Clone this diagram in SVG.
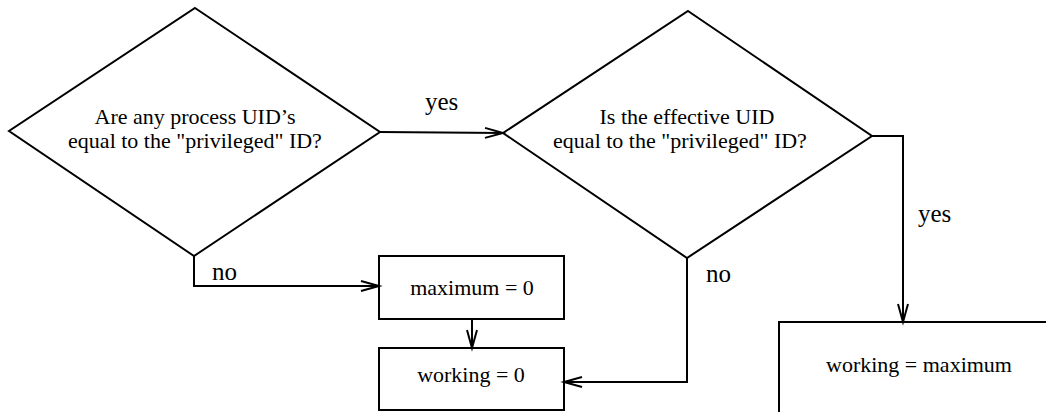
<svg xmlns="http://www.w3.org/2000/svg" width="1046" height="412" viewBox="0 0 1046 412">
<style>
.shape{fill:none;stroke:#000;stroke-width:2}
.t{font-family:"Liberation Serif","Times New Roman",serif;font-size:22px;fill:#000;text-anchor:middle}
.lbl{font-family:"Liberation Serif","Times New Roman",serif;font-size:25px;fill:#000}
.edge{fill:none;stroke:#000;stroke-width:2}
</style>
<defs>
<marker id="arr" markerUnits="userSpaceOnUse" markerWidth="22" markerHeight="14" refX="18" refY="6" orient="auto" overflow="visible">
<path d="M0,1 L18,6 L0,11" fill="none" stroke="#000" stroke-width="2"/>
</marker>
</defs>
<rect width="1046" height="412" fill="#fff"/>
<g id="d1">
<polygon class="shape" points="195,8 380,132 194,256 9,131"/>
<text class="t" x="195" y="124">Are any process UID’s</text>
<text class="t" x="195" y="148">equal to the "privileged" ID?</text>
</g>
<g id="d2">
<polygon class="shape" points="688,11 872,136 687,258 503,133"/>
<text class="t" x="687" y="124">Is the effective UID</text>
<text class="t" x="680" y="148">equal to the "privileged" ID?</text>
</g>
<g id="b1">
<rect class="shape" x="379" y="256" width="185" height="63"/>
<text class="t" x="472" y="295">maximum = 0</text>
</g>
<g id="b2">
<rect class="shape" x="379" y="348" width="185" height="62"/>
<text class="t" x="471" y="382">working = 0</text>
</g>
<g id="b3">
<rect class="shape" x="779" y="322" width="300" height="120"/>
<text class="t" x="919" y="372">working = maximum</text>
</g>
<g id="connectors">
<path class="edge" d="M380,132 L503,133" marker-end="url(#arr)"/>
<path class="edge" d="M194,256 L194,286 L379,286" marker-end="url(#arr)"/>
<path class="edge" d="M472,319 L472,348" marker-end="url(#arr)"/>
<path class="edge" d="M687,258 L687,382 L564,382" marker-end="url(#arr)"/>
<path class="edge" d="M872,136 L903,136 L903,322" marker-end="url(#arr)"/>
<text class="lbl" x="425" y="110">yes</text>
<text class="lbl" x="212" y="280">no</text>
<text class="lbl" x="706" y="282">no</text>
<text class="lbl" x="918" y="222">yes</text>
</g>
</svg>
